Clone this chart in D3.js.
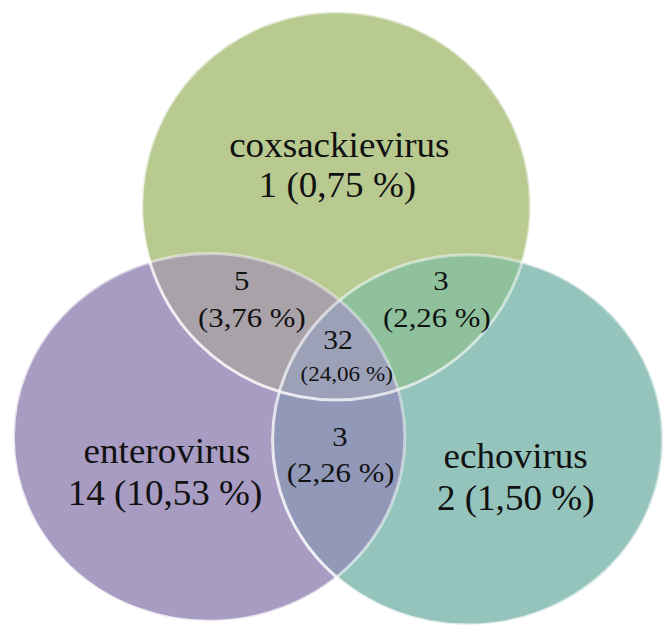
<!DOCTYPE html>
<html>
<head>
<meta charset="utf-8">
<script src="https://cdn.jsdelivr.net/npm/d3@7"></script>
<style>
  html, body { margin: 0; padding: 0; background: #fff; }
  svg { display: block; }
  text { font-family: "Liberation Serif", "Times New Roman", "DejaVu Serif", serif; fill: #111; }
</style>
</head>
<body>
<svg id="venn" width="668" height="634"></svg>
<script>
// --- data ---
const setNames = ['coxsackievirus', 'enterovirus', 'echovirus'];
const setOnlyCounts = [1, 14, 2];
const setOnlyPcts = ['0,75', '10,53', '1,50'];
// overlaps: coxsackie∩entero, coxsackie∩echo, entero∩echo, all three
const overlapKeys = ['ce', 'co', 'eo', 'all'];
const overlapCounts = [5, 3, 3, 32];
const overlapPcts = ['3,76', '2,26', '2,26', '24,06'];

const fills = ['#b8ca90', '#a89cc3', '#95c4bd'];
const overlapFills = ['#a9a3a9', '#8fc19d', '#9198b8', '#9ca1b8'];

const svg = d3.select('#venn');

// unit layout space -> pixels
const x = d3.scaleLinear().domain([0, 1]).range([0, 668]);
const y = d3.scaleLinear().domain([0, 1]).range([0, 634]);

// circle geometry (layout, not data)
const circles = [
  { cx: 0.503, cy: 0.325, rx: 0.291, ry: 0.306 },
  { cx: 0.313, cy: 0.690, rx: 0.293, ry: 0.290 },
  { cx: 0.700, cy: 0.694, rx: 0.292, ry: 0.292 }
];

const defs = svg.append('defs');
circles.forEach((c, i) => {
  defs.append('clipPath').attr('id', 'clip' + i)
    .append('ellipse')
    .attr('cx', x(c.cx)).attr('cy', y(c.cy))
    .attr('rx', x(c.rx)).attr('ry', y(c.ry));
});
// nested clip for pair 1∩2 used by triple
defs.append('clipPath').attr('id', 'clip12').attr('clip-path', 'url(#clip1)')
  .append('ellipse')
  .attr('cx', x(circles[2].cx)).attr('cy', y(circles[2].cy))
  .attr('rx', x(circles[2].rx)).attr('ry', y(circles[2].ry));

// rim gloss: brighter at lower-left, faint at upper-right
const rim = defs.append('linearGradient').attr('id', 'rim')
  .attr('x1', '0').attr('y1', '1').attr('x2', '1').attr('y2', '0');
rim.append('stop').attr('offset', '0%').attr('stop-color', '#fff').attr('stop-opacity', 0.95);
rim.append('stop').attr('offset', '45%').attr('stop-color', '#fff').attr('stop-opacity', 0.6);
rim.append('stop').attr('offset', '100%').attr('stop-color', '#fff').attr('stop-opacity', 0.35);

const ell = (g, c) => g.append('ellipse')
  .attr('cx', x(c.cx)).attr('cy', y(c.cy))
  .attr('rx', x(c.rx)).attr('ry', y(c.ry));

// base circles
circles.forEach((c, i) => ell(svg, c).attr('fill', fills[i]));

// pair overlaps: draw circle b clipped by circle a
const pairs = [[0, 1], [0, 2], [1, 2]];
pairs.forEach(([a, b], k) => {
  ell(svg.append('g').attr('clip-path', `url(#clip${a})`), circles[b])
    .attr('fill', overlapFills[k]);
});
// triple
ell(svg.append('g').attr('clip-path', 'url(#clip12)'), circles[0])
  .attr('fill', overlapFills[3]);

// glossy rims
circles.forEach(c => {
  ell(svg, c).attr('fill', 'none')
    .attr('stroke', 'url(#rim)').attr('stroke-width', 3);
});

// --- labels ---
// [x, y] in unit space, font size, horizontal stretch
function label(txt, px, py, fs, sx) {
  svg.append('text')
    .attr('transform', `translate(${x(px)},${y(py)}) scale(${sx},1)`)
    .attr('text-anchor', 'middle').attr('font-size', fs).text(txt);
}

const setLabelPos = [[0.508, 0.248, 0.505, 0.311], [0.250, 0.730, 0.247, 0.797], [0.772, 0.738, 0.772, 0.805]];
setNames.forEach((name, i) => {
  const [x1, y1, x2, y2] = setLabelPos[i];
  label(name, x1, y1, 35, 1.06);
  label(`${setOnlyCounts[i]} (${setOnlyPcts[i]} %)`, x2, y2, 35, 1.06);
});

const ovPos = [
  [0.362, 0.457, 0.377, 0.516, 27, 27, 1.14],
  [0.660, 0.457, 0.654, 0.516, 27, 27, 1.14],
  [0.509, 0.703, 0.510, 0.760, 27, 27, 1.14],
  [0.506, 0.550, 0.519, 0.601, 27, 21, 1.10]
];
overlapKeys.forEach((k, i) => {
  const [x1, y1, x2, y2, fs1, fs2, sx] = ovPos[i];
  label(String(overlapCounts[i]), x1, y1, fs1, sx);
  label(`(${overlapPcts[i]} %)`, x2, y2, fs2, sx);
});
</script>
</body>
</html>
